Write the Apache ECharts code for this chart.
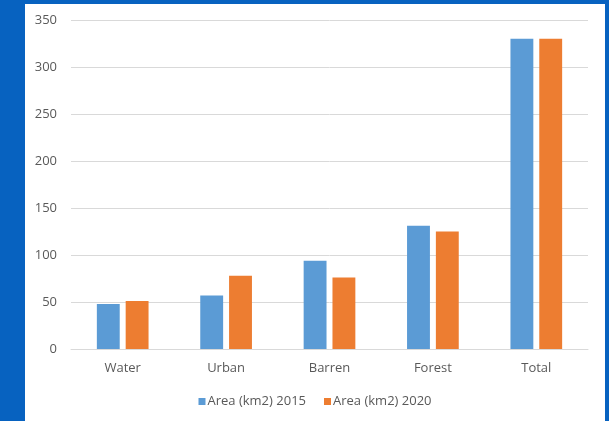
<!DOCTYPE html>
<html>
<head>
<meta charset="utf-8">
<script src="https://cdn.jsdelivr.net/npm/echarts@6/dist/echarts.min.js"></script>
<style>
  html, body { margin: 0; padding: 0; background: #0762c0; width: 609px; height: 421px; overflow: hidden; }
  #chart { position: absolute; left: 25px; top: 4px; width: 580px; height: 417px; background: #fff; }
</style>
</head>
<body>
<div id="chart"></div>
<script>
var categories = ['Water', 'Urban', 'Barren', 'Forest', 'Total'];
var area2015 = [48, 57, 94, 131, 330];
var area2020 = [51, 78, 76, 125, 330];
var seriesNames = ['Area (km2) 2015', 'Area (km2) 2020'];

var myChart = echarts.init(document.getElementById('chart'));
var textColor = '#595959';
var font = 'Open Sans';

var option = {
  animation: false,
  color: ['#5b9bd5', '#ed7d31'],
  grid: { left: 46, right: 17, top: 16, bottom: 72 },
  legend: {
    top: 386,
    left: 'center',
    itemWidth: 7,
    itemHeight: 7,
    itemGap: 18,
    icon: 'rect',
    textStyle: { color: textColor, fontFamily: font, fontSize: 13, padding: [0, 0, 0, -3] },
    data: seriesNames
  },
  xAxis: {
    type: 'category',
    data: categories,
    axisLine: { lineStyle: { color: '#d9d9d9' } },
    axisTick: { show: false },
    axisLabel: { color: textColor, fontFamily: font, fontSize: 13, margin: 13 }
  },
  yAxis: {
    type: 'value',
    min: 0,
    max: 350,
    interval: 50,
    axisLine: { show: false },
    axisTick: { show: false },
    splitLine: { lineStyle: { color: '#d9d9d9' } },
    axisLabel: { color: textColor, fontFamily: font, fontSize: 13, margin: 14 }
  },
  series: [
    {
      name: seriesNames[0],
      type: 'bar',
      data: area2015,
      barGap: '26%',
      barCategoryGap: '50%'
    },
    {
      name: seriesNames[1],
      type: 'bar',
      data: area2020
    }
  ]
};
myChart.setOption(option);
</script>
</body>
</html>
